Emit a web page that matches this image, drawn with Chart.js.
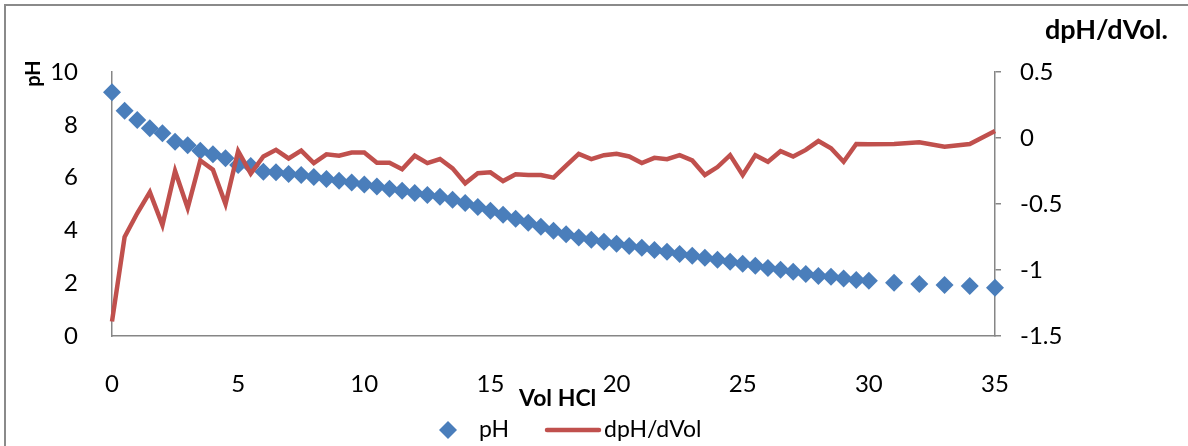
<!DOCTYPE html>
<html>
<head>
<meta charset="utf-8">
<title>pH titration with HCl</title>
<script src="https://cdn.jsdelivr.net/npm/chart.js@4.4.1/dist/chart.umd.min.js"></script>
<style>
  html, body { margin: 0; padding: 0; background: #ffffff; }
  #wrap { width: 1188px; height: 446px; }
</style>
</head>
<body>
<div id="wrap"><canvas id="chart" width="1188" height="446"></canvas></div>
<script>
// Volume of HCl added (mL)
const volHCl = [
  0, 0.5, 1, 1.5, 2, 2.5, 3, 3.5, 4, 4.5,
  5, 5.5, 6, 6.5, 7, 7.5, 8, 8.5, 9, 9.5,
  10, 10.5, 11, 11.5, 12, 12.5, 13, 13.5, 14, 14.5,
  15, 15.5, 16, 16.5, 17, 17.5, 18, 18.5, 19, 19.5,
  20, 20.5, 21, 21.5, 22, 22.5, 23, 23.5, 24, 24.5,
  25, 25.5, 26, 26.5, 27, 27.5, 28, 28.5, 29, 29.5,
  30, 31, 32, 33, 34, 35
];

// Measured pH
const phValues = [
  9.23, 8.53, 8.18, 7.87, 7.68, 7.36, 7.23, 7.02, 6.88, 6.73,
  6.48, 6.44, 6.22, 6.20, 6.14, 6.10, 6.02, 5.95, 5.88, 5.81,
  5.74, 5.66, 5.58, 5.50, 5.42, 5.34, 5.27, 5.16, 5.04, 4.89,
  4.74, 4.59, 4.44, 4.29, 4.14, 3.99, 3.85, 3.73, 3.65, 3.57,
  3.49, 3.41, 3.34, 3.26, 3.19, 3.11, 3.04, 2.96, 2.89, 2.81,
  2.74, 2.66, 2.58, 2.51, 2.43, 2.35, 2.27, 2.24, 2.18, 2.12,
  2.09, 2.02, 1.97, 1.93, 1.89, 1.83
];

// First derivative dpH/dVol
const dphValues = [
  -1.39, -0.75, -0.57, -0.41, -0.66, -0.25, -0.53, -0.17, -0.24, -0.50,
  -0.10, -0.27, -0.14, -0.09, -0.155, -0.096, -0.19, -0.124, -0.134, -0.11,
  -0.11, -0.187, -0.187, -0.237, -0.134, -0.19, -0.159, -0.23, -0.343, -0.267,
  -0.26, -0.326, -0.275, -0.28, -0.28, -0.30, -0.21, -0.12, -0.16, -0.13,
  -0.12, -0.14, -0.19, -0.15, -0.16, -0.13, -0.17, -0.28, -0.22, -0.13,
  -0.28, -0.13, -0.18, -0.10, -0.14, -0.09, -0.023, -0.078, -0.18, -0.045,
  -0.048, -0.045, -0.033, -0.066, -0.045, 0.053
];

// Axis tick values
const volTicks = [0, 5, 10, 15, 20, 25, 30, 35];
const phTicks = [0, 2, 4, 6, 8, 10];
const dphTicks = [-1.5, -1, -0.5, 0, 0.5];

// Axis and legend captions
const volTitle = 'Vol HCl';
const phTitle = 'pH';
const dphTitle = 'dpH/dVol.';
const phLegend = 'pH';
const dphLegend = 'dpH/dVol';

const BLUE = '#4A7EBB';
const RED = '#C0504D';
const AXIS = '#868686';
const FONT = 'Lato, "Open Sans", sans-serif';

const phPoints = volHCl.map((v, i) => ({ x: v, y: phValues[i] }));
const dphPoints = volHCl.map((v, i) => ({ x: v, y: dphValues[i] }));

const setTicks = (values) => (scale) => {
  scale.ticks = values.map(v => ({ value: v }));
};
const plainNumber = (value) => String(value);

// Frame, axis captions and the legend row
const decorations = {
  id: 'decorations',
  beforeDraw(chart) {
    const ctx = chart.ctx;
    ctx.save();
    ctx.strokeStyle = '#8a8a8a';
    ctx.lineWidth = 2;
    ctx.strokeRect(5, 5, 1400, 700);
    ctx.restore();
  },
  afterDraw(chart) {
    const ctx = chart.ctx;
    ctx.save();
    ctx.fillStyle = '#000000';
    ctx.textBaseline = 'alphabetic';

    // left axis caption, rotated
    ctx.save();
    ctx.font = 'bold 20px ' + FONT;
    ctx.translate(40, 73.5);
    ctx.rotate(-Math.PI / 2);
    ctx.textAlign = 'center';
    ctx.fillText(phTitle, 0, 0);
    ctx.restore();

    // right axis caption
    ctx.font = 'bold 27px ' + FONT;
    ctx.textAlign = 'left';
    ctx.fillText(dphTitle, 1045, 39);

    // x axis caption
    ctx.font = 'bold 23px ' + FONT;
    ctx.fillText(volTitle, 519, 406);

    // legend
    const ly = 430;
    ctx.fillStyle = BLUE;
    ctx.beginPath();
    ctx.moveTo(448, ly - 9);
    ctx.lineTo(457, ly);
    ctx.lineTo(448, ly + 9);
    ctx.lineTo(439, ly);
    ctx.closePath();
    ctx.fill();

    ctx.fillStyle = '#000000';
    ctx.font = '23px ' + FONT;
    ctx.fillText(phLegend, 479, 437);

    ctx.strokeStyle = RED;
    ctx.lineWidth = 4.5;
    ctx.lineCap = 'round';
    ctx.beginPath();
    ctx.moveTo(547, ly);
    ctx.lineTo(599, ly);
    ctx.stroke();

    ctx.fillText(dphLegend, 604, 437);
    ctx.restore();
  }
};

new Chart(document.getElementById('chart'), {
  type: 'line',
  data: {
    datasets: [
      {
        label: phLegend,
        data: phPoints,
        yAxisID: 'y',
        showLine: false,
        pointStyle: 'rectRot',
        pointRadius: 9,
        pointHoverRadius: 9,
        pointBackgroundColor: BLUE,
        pointBorderWidth: 0,
        borderColor: BLUE,
        backgroundColor: BLUE,
        clip: false,
        order: 2
      },
      {
        label: dphLegend,
        data: dphPoints,
        yAxisID: 'y1',
        borderColor: RED,
        backgroundColor: RED,
        borderWidth: 4.5,
        pointRadius: 0,
        pointHoverRadius: 0,
        tension: 0,
        borderJoinStyle: 'miter',
        clip: false,
        order: 1
      }
    ]
  },
  options: {
    responsive: false,
    animation: false,
    devicePixelRatio: 1,
    layout: { padding: { top: 72, left: 0, right: 0, bottom: 0 } },
    plugins: {
      legend: { display: false },
      title: { display: false },
      tooltip: { enabled: false }
    },
    scales: {
      x: {
        type: 'linear',
        position: 'bottom',
        min: 0,
        max: 35,
        afterBuildTicks: setTicks(volTicks),
        afterFit(scale) { scale.height = 110; },
        grid: { display: false },
        border: { display: true, color: AXIS, width: 1.5 },
        ticks: {
          padding: 26,
          color: '#000000',
          font: { family: FONT, size: 24 },
          maxRotation: 0,
          callback: plainNumber
        }
      },
      y: {
        type: 'linear',
        position: 'left',
        min: 0,
        max: 10,
        afterBuildTicks: setTicks(phTicks),
        afterFit(scale) { scale.width = 112; },
        grid: { display: false },
        border: { display: true, color: AXIS, width: 1.5 },
        ticks: {
          padding: 26,
          color: '#000000',
          font: { family: FONT, size: 24 },
          callback: plainNumber
        }
      },
      y1: {
        type: 'linear',
        position: 'right',
        min: -1.5,
        max: 0.5,
        afterBuildTicks: setTicks(dphTicks),
        afterFit(scale) { scale.width = 193; },
        grid: {
          display: true,
          drawOnChartArea: false,
          drawTicks: true,
          tickLength: 6,
          color: AXIS,
          lineWidth: 1.5
        },
        border: { display: true, color: AXIS, width: 1.5 },
        ticks: {
          padding: 19,
          color: '#000000',
          font: { family: FONT, size: 24 },
          callback: plainNumber
        }
      }
    }
  },
  plugins: [decorations]
});
</script>
</body>
</html>
